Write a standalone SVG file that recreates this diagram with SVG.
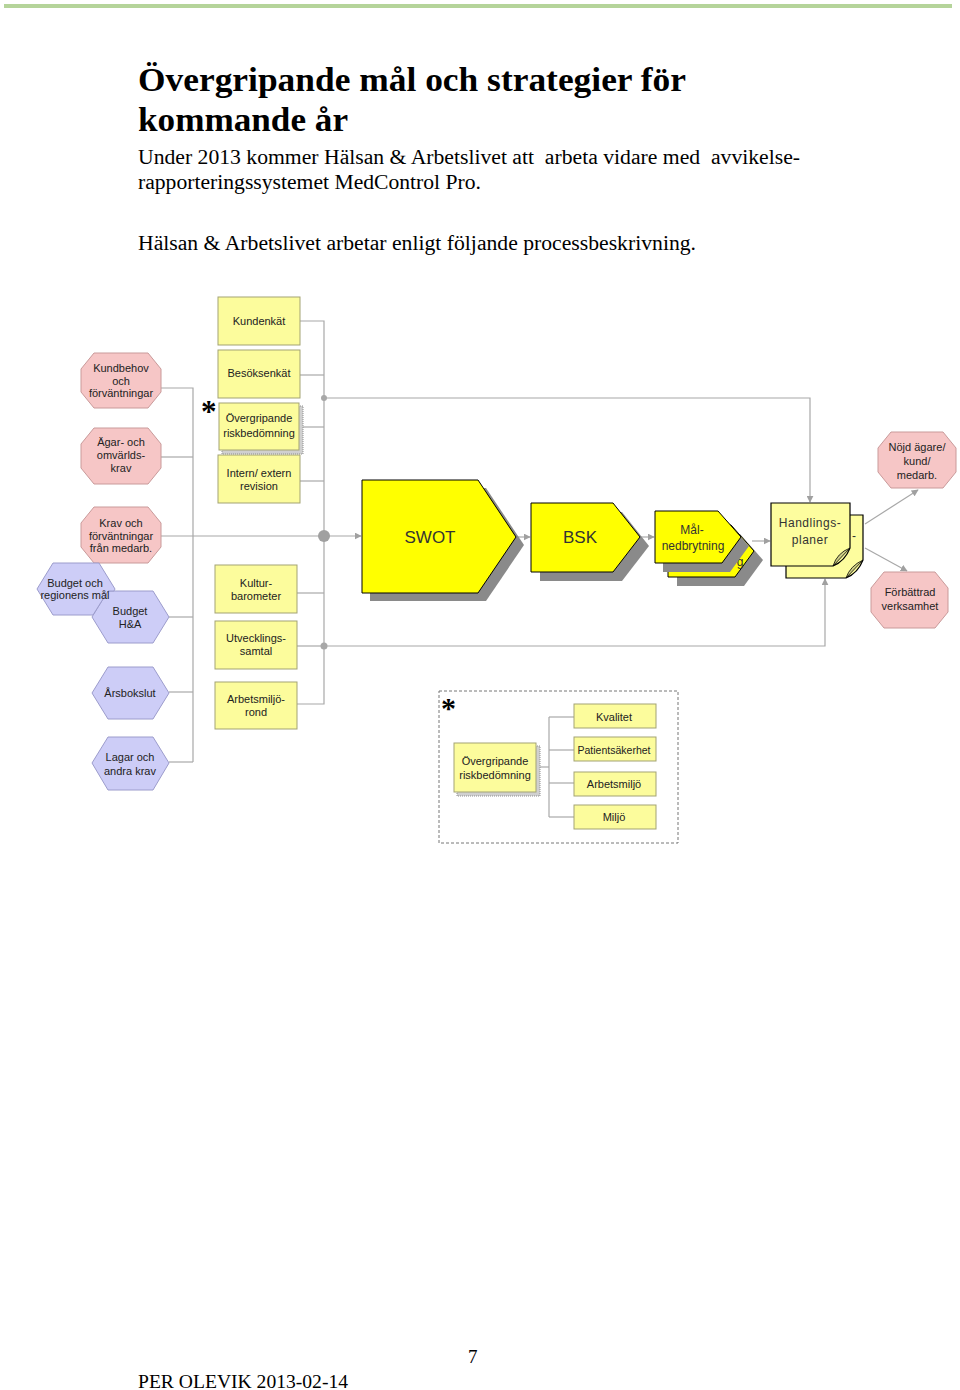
<svg xmlns="http://www.w3.org/2000/svg" width="960" height="1390" viewBox="0 0 960 1390">
<defs>
<style>
.serif{font-family:"Liberation Serif","Times New Roman",serif;fill:#000}
.lbl{font-family:"Liberation Sans",Arial,sans-serif;font-size:11px;fill:#222;text-anchor:middle}
.big{font-size:17px;fill:#333}
.mid{font-size:12px;fill:#333}
.box{fill:#fcfc9c;stroke:#a3a375;stroke-width:1}
.pink{fill:#f6c6c6;stroke:#c99a9a;stroke-width:1}
.blue{fill:#cdcdf7;stroke:#9c9ccc;stroke-width:1}
.yel{fill:#ffff00;stroke:#000;stroke-width:1}
.shadow{fill:#8a8a8a}
.note{fill:#fdfd9e;stroke:#000;stroke-width:1.2}
.fold{fill:#cfcf86;stroke:#000;stroke-width:0.8}
.con{fill:none;stroke:#a8a8a8;stroke-width:1.2}
.dshadow{fill:#d0d0d0;stroke:#909090;stroke-width:1;stroke-dasharray:1 1}
</style>
<marker id="arr" viewBox="0 0 10 10" refX="9" refY="5" markerWidth="7" markerHeight="7" orient="auto" markerUnits="userSpaceOnUse">
<path d="M0,0 L10,5 L0,10 Z" fill="#a0a0a0"/>
</marker>
</defs>
<rect x="0" y="0" width="960" height="1390" fill="#fff"/>
<rect x="4" y="4" width="948" height="4" fill="#b5d49a"/>

<g id="header">
<text class="serif" x="138" y="91" font-size="34" font-weight="bold" textLength="548" lengthAdjust="spacingAndGlyphs">Övergripande mål och strategier för</text>
<text class="serif" x="138" y="131" font-size="34" font-weight="bold" textLength="210" lengthAdjust="spacingAndGlyphs">kommande år</text>
<text class="serif" x="138" y="164" font-size="20" textLength="662" lengthAdjust="spacingAndGlyphs" xml:space="preserve">Under 2013 kommer Hälsan &amp; Arbetslivet att  arbeta vidare med  avvikelse-</text>
<text class="serif" x="138" y="189" font-size="20" textLength="343" lengthAdjust="spacingAndGlyphs">rapporteringssystemet MedControl Pro.</text>
<text class="serif" x="138" y="250" font-size="20" textLength="558" lengthAdjust="spacingAndGlyphs">Hälsan &amp; Arbetslivet arbetar enligt följande processbeskrivning.</text>
</g>

<g id="connectors">
<polyline class="con" points="161,388 193,388 193,762"/>
<line class="con" x1="161" y1="457" x2="193" y2="457"/>
<line class="con" x1="161" y1="536" x2="324" y2="536"/>
<line class="con" x1="169" y1="617" x2="193" y2="617"/>
<line class="con" x1="169" y1="692" x2="193" y2="692"/>
<line class="con" x1="169" y1="762" x2="193" y2="762"/>
<polyline class="con" points="300,321 324,321 324,704 297,704"/>
<line class="con" x1="300" y1="375" x2="324" y2="375"/>
<line class="con" x1="300" y1="427" x2="324" y2="427"/>
<line class="con" x1="300" y1="481" x2="324" y2="481"/>
<line class="con" x1="297" y1="593" x2="324" y2="593"/>
<line class="con" x1="297" y1="646" x2="324" y2="646"/>
<polyline class="con" points="324,398 810,398 810,502" marker-end="url(#arr)"/>
<polyline class="con" points="324,646 825,646 825,579" marker-end="url(#arr)"/>
<line class="con" x1="324" y1="536" x2="361" y2="536" marker-end="url(#arr)"/>
<line class="con" x1="517" y1="537" x2="530" y2="537" marker-end="url(#arr)"/>
<line class="con" x1="641" y1="537" x2="654" y2="537" marker-end="url(#arr)"/>
<line class="con" x1="752" y1="541" x2="770" y2="541" marker-end="url(#arr)"/>
<line class="con" x1="865" y1="524" x2="918" y2="490" marker-end="url(#arr)"/>
<line class="con" x1="865" y1="548" x2="907" y2="571" marker-end="url(#arr)"/>
<circle cx="324" cy="398" r="3" fill="#a8a8a8"/>
<circle cx="324" cy="536" r="6" fill="#a0a0a0"/>
<circle cx="324" cy="646" r="3.5" fill="#a8a8a8"/>
<polyline class="con" points="549,717 549,817"/>
<line class="con" x1="536" y1="767" x2="549" y2="767"/>
<line class="con" x1="549" y1="717" x2="574" y2="717"/>
<line class="con" x1="549" y1="750" x2="574" y2="750"/>
<line class="con" x1="549" y1="783" x2="574" y2="783"/>
<line class="con" x1="549" y1="817" x2="574" y2="817"/>
</g>

<g id="kundbehov"><polygon class="pink" points="94,353 148,353 161,369 161,392 148,408 94,408 81,392 81,369"/>
<text class="lbl" x="121" y="372">Kundbehov</text><text class="lbl" x="121" y="385">och</text><text class="lbl" x="121" y="397">förväntningar</text></g>
<g id="agarkrav"><polygon class="pink" points="94,428 148,428 161,444 161,468 148,484 94,484 81,468 81,444"/>
<text class="lbl" x="121" y="446">Ägar- och</text><text class="lbl" x="121" y="459">omvärlds-</text><text class="lbl" x="121" y="472">krav</text></g>
<g id="kravmedarb"><polygon class="pink" points="94,507 148,507 161,523 161,547 148,563 94,563 81,547 81,523"/>
<text class="lbl" x="121" y="527">Krav och</text><text class="lbl" x="121" y="540">förväntningar</text><text class="lbl" x="121" y="552">från medarb.</text></g>

<g id="budgetha"><polygon class="blue" points="108,591 153,591 169,617 153,643 108,643 92,617"/>
<text class="lbl" x="130" y="615">Budget</text><text class="lbl" x="130" y="628">H&amp;A</text></g>
<g id="budgetregion"><polygon class="blue" points="53,563 99,563 115,589 114,591 108,591 93,615 53,615 37,589"/>
<text class="lbl" x="75" y="587">Budget och</text><text class="lbl" x="75" y="599">regionens mål</text></g>
<g id="arsbokslut"><polygon class="blue" points="108,667 153,667 169,693 153,719 108,719 92,693"/>
<text class="lbl" x="130" y="697">Årsbokslut</text></g>
<g id="lagar"><polygon class="blue" points="108,737 153,737 169,763 153,790 108,790 92,763"/>
<text class="lbl" x="130" y="761">Lagar och</text><text class="lbl" x="130" y="775">andra krav</text></g>

<g id="kundenkat"><rect class="box" x="218" y="297" width="82" height="48"/><text class="lbl" x="259" y="325">Kundenkät</text></g>
<g id="besoksenkat"><rect class="box" x="218" y="350" width="82" height="48"/><text class="lbl" x="259" y="377">Besöksenkät</text></g>
<g id="riskbed1"><rect class="dshadow" x="222" y="406" width="81" height="48"/><rect class="box" x="219" y="403" width="80" height="47"/>
<text class="lbl" x="259" y="422">Övergripande</text><text class="lbl" x="259" y="437">riskbedömning</text>
<text class="serif" x="201" y="422" font-size="31" font-weight="bold">*</text></g>
<g id="revision"><rect class="box" x="218" y="455" width="82" height="48"/><text class="lbl" x="259" y="477">Intern/ extern</text><text class="lbl" x="259" y="490">revision</text></g>
<g id="kulturbarometer"><rect class="box" x="215" y="565" width="82" height="48"/><text class="lbl" x="256" y="587">Kultur-</text><text class="lbl" x="256" y="600">barometer</text></g>
<g id="utvecklingssamtal"><rect class="box" x="215" y="621" width="82" height="48"/><text class="lbl" x="256" y="642">Utvecklings-</text><text class="lbl" x="256" y="655">samtal</text></g>
<g id="arbetsmiljorond"><rect class="box" x="215" y="682" width="82" height="47"/><text class="lbl" x="256" y="703">Arbetsmiljö-</text><text class="lbl" x="256" y="716">rond</text></g>

<g id="swot"><polygon class="shadow" points="370,488 486,488 524,545 486,601 370,601"/>
<polygon class="yel" points="362,480 478,480 516,537 478,593 362,593"/>
<text class="lbl big" x="430" y="543">SWOT</text></g>
<g id="bsk"><polygon class="shadow" points="540,512 622,512 649,546 622,581 540,581"/>
<polygon class="yel" points="531,503 613,503 640,537 613,572 531,572"/>
<text class="lbl big" x="580" y="543">BSK</text></g>
<g id="malnedbrytning">
<polygon class="shadow" points="677,534 740,534 763,560 744,586 677,586"/>
<polygon class="yel" points="668,525 731,525 754,551 735,577 668,577"/>
<text class="lbl mid" x="740" y="566">g</text>
<polygon class="shadow" points="663,520 726,520 749,546 730,572 663,572"/>
<polygon class="yel" points="655,511 718,511 741,537 722,563 655,563"/>
<text class="lbl mid" x="692" y="534">Mål-</text><text class="lbl mid" x="693" y="550">nedbrytning</text></g>
<g id="handlingsplaner">
<path class="note" d="M786,515 H863 V560 Q858,573 846,578 H786 Z"/>
<path class="fold" d="M863,560 L846,578 Q850,566 863,560 Z"/>
<text class="lbl mid" x="854" y="540">-</text>
<path class="note" d="M771,503 H850 V548 Q845,561 833,566 H771 Z"/>
<path class="fold" d="M850,548 L833,566 Q837,553 850,548 Z"/>
<text class="lbl mid" x="810" y="527" letter-spacing="0.5">Handlings-</text><text class="lbl mid" x="810" y="544" letter-spacing="0.5">planer</text></g>

<g id="nojd"><polygon class="pink" points="891,432 943,432 956,448 956,472 943,488 891,488 878,472 878,448"/>
<text class="lbl" x="917" y="451">Nöjd ägare/</text><text class="lbl" x="917" y="465">kund/</text><text class="lbl" x="917" y="479">medarb.</text></g>
<g id="forbattrad"><polygon class="pink" points="884,572 935,572 948,588 948,612 935,628 884,628 871,612 871,588"/>
<text class="lbl" x="910" y="596">Förbättrad</text><text class="lbl" x="910" y="610">verksamhet</text></g>

<g id="riskgroup">
<rect x="439" y="691" width="239" height="152" fill="none" stroke="#777" stroke-width="1" stroke-dasharray="3 2"/>
<text class="serif" x="441" y="718" font-size="30" font-weight="bold">*</text>
<rect class="dshadow" x="457" y="746" width="83" height="50"/>
<rect class="box" x="454" y="743" width="82" height="49"/>
<text class="lbl" x="495" y="765">Övergripande</text><text class="lbl" x="495" y="779">riskbedömning</text>
<rect class="box" x="574" y="704" width="82" height="24"/><text class="lbl" x="614" y="721">Kvalitet</text>
<rect class="box" x="574" y="737" width="82" height="24"/><text class="lbl" x="614" y="754" style="font-size:10.5px">Patientsäkerhet</text>
<rect class="box" x="574" y="772" width="82" height="24"/><text class="lbl" x="614" y="788">Arbetsmiljö</text>
<rect class="box" x="574" y="805" width="82" height="24"/><text class="lbl" x="614" y="821">Miljö</text>
</g>

<g id="footer">
<text class="serif" x="468" y="1363" font-size="19">7</text>
<text class="serif" x="138" y="1388" font-size="19" textLength="210" lengthAdjust="spacingAndGlyphs">PER OLEVIK 2013-02-14</text>
</g>
</svg>
